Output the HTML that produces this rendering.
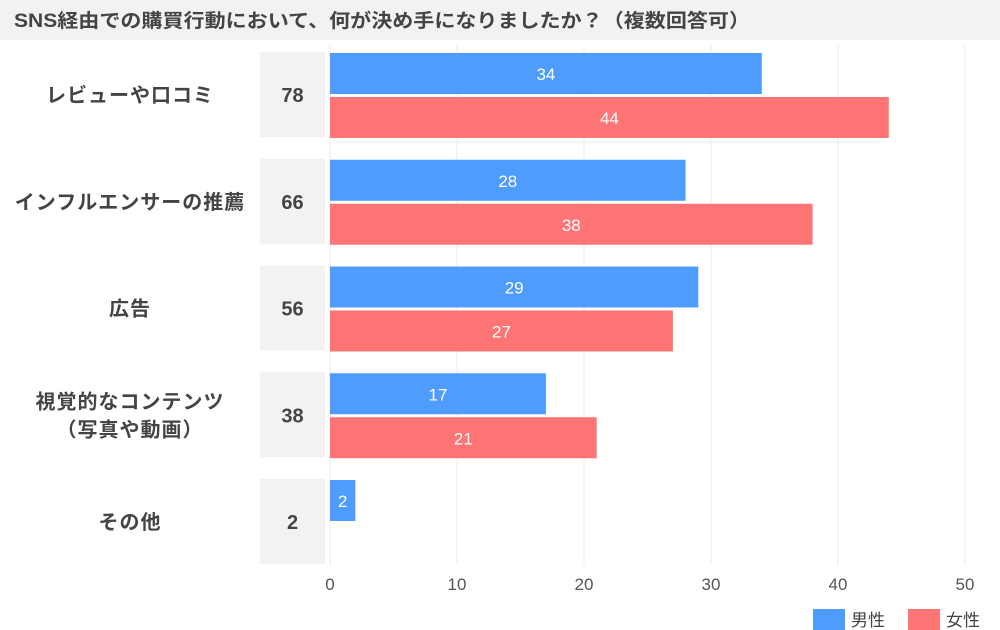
<!DOCTYPE html>
<html><head><meta charset="utf-8"><style>
body{margin:0;width:1000px;height:630px;background:#fff;font-family:"Liberation Sans","Noto Sans CJK JP",sans-serif;overflow:hidden;position:relative}
svg{position:absolute;left:0;top:0}
</style></head><body>
<svg id="chart" width="1000" height="630">
<rect x="0" y="0" width="1000" height="40" fill="#f2f2f2"/>
<text x="14" y="27" font-size="19" font-weight="bold" fill="#444" textLength="736" lengthAdjust="spacingAndGlyphs">SNS経由での購買行動において、何が決め手になりましたか？（複数回答可）</text>
</svg>
<script>
const categories=[["レビューや口コミ"],["インフルエンサーの推薦"],["広告"],["視覚的なコンテンツ","（写真や動画）"],["その他"]];
const totals=[78,66,56,38,2];
const male=[34,28,29,17,2];
const female=[44,38,27,21,null];
const ticks=[0,10,20,30,40,50];
const NS="http://www.w3.org/2000/svg";
const svg=document.getElementById('chart');
const x0=330,x1=965,xmax=50;
const xs=v=>x0+v/xmax*(x1-x0);
const gy=i=>53+i*106.75;
function el(t,a,p){const e=document.createElementNS(NS,t);for(const k in a)e.setAttribute(k,a[k]);(p||svg).appendChild(e);return e;}
ticks.forEach(t=>{
 const l=el('line',{x1:xs(t),x2:xs(t),y1:45,y2:565,stroke:'#ebebeb','stroke-width':1});
 
 
 const tx=el('text',{x:xs(t),y:590,'text-anchor':'middle','font-size':17,fill:'#555'});
 tx.textContent=t;
 
 
});
categories.forEach((c,i)=>{
 const y=gy(i);
 const box=el('rect',{x:260,y:y-1,width:65,height:85,fill:'#f2f2f2'});
 
 
 const tt=el('text',{x:292.5,y:y+49,'text-anchor':'middle','font-size':20,'font-weight':'bold',fill:'#444'});
 tt.textContent=totals[i];
 
 
 const cy=y+42;
 c.forEach((line,j)=>{
  const t=el('text',{x:130,y:cy+7+(j-(c.length-1)/2)*28,'text-anchor':'middle','font-size':20,'font-weight':'bold',fill:'#444','letter-spacing':'1'});
  t.textContent=line;
  
  
 });
 [[male[i],'#4f9cff',0,'bar-male'],[female[i],'#ff7474',44,'bar-female']].forEach(([v,col,off,nm])=>{
  if(v==null)return;
  const r=el('rect',{x:x0,y:y+off,width:xs(v)-x0,height:41,fill:col});
  
  
  const t=el('text',{x:(x0+xs(v))/2,y:y+off+27,'text-anchor':'middle','font-size':17,fill:'#fff'});
  t.textContent=v;
  
  
 });
});
[['男性','#4f9cff',813],['女性','#ff7474',908]].forEach(([n,c,x])=>{
 const g=el('g',{});
 
 
 el('rect',{x:x,y:609,width:32,height:21,fill:c},g);
 const t=el('text',{x:x+38,y:626,'font-size':17,fill:'#444'},g);
 t.textContent=n;
});
</script>
</body></html>
